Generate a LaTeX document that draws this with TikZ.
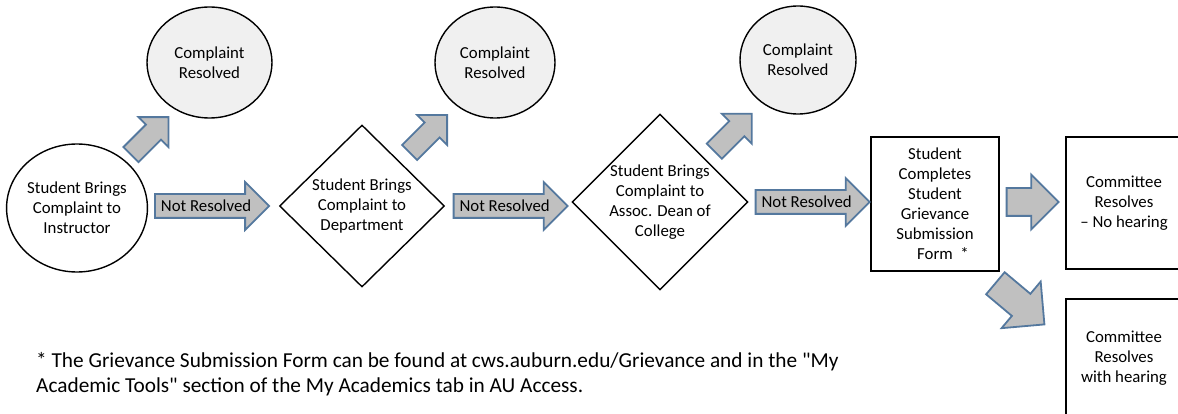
\documentclass[tikz,border=0pt]{standalone}
\usepackage{fontspec}
\setmainfont{Carlito}[Ligatures=TeXOff]
\usetikzlibrary{shapes.geometric,shapes.arrows,calc}
\definecolor{arrline}{RGB}{84,120,158}
\definecolor{arrfill}{RGB}{192,192,192}
\definecolor{resfill}{RGB}{240,240,240}
\tikzset{
  txt/.style={font=\fontsize{16.8}{20}\selectfont,align=center},
  start/.style={txt,ellipse,draw,line width=1.4pt,inner sep=0pt},
  resolved/.style={txt,ellipse,draw,line width=1.4pt,fill=resfill,inner sep=0pt},
  decide/.style={txt,diamond,draw,line width=1.4pt,inner sep=0pt},
  stepbox/.style={txt,rectangle,draw,line width=1.4pt,inner sep=0pt},
  blockarr/.style={single arrow,draw=arrline,fill=arrfill,line width=1.8pt,
    single arrow tip angle=90,single arrow head indent=0pt,inner xsep=0pt,
    text height=0pt,text depth=0pt,anchor=tail},
  notres/.style={blockarr,txt,text height=10.5pt,inner ysep=5.75pt,
    single arrow head extend=12pt,minimum width=46pt,minimum height=114pt},
}

\begin{document}
\begin{tikzpicture}[x=1pt,y=-1pt]
  \useasboundingbox (0,0) rectangle (1178,414);
  % steps
  \node[start,minimum width=140pt,minimum height=128pt] (inst) at (77,208) {Student Brings\\Complaint to\\Instructor};
  \node[decide,minimum width=165pt,minimum height=162pt] (dept) at (362,206) {Student Brings\\Complaint to\\Department};
  \node[decide,minimum width=174pt,minimum height=174pt] (dean) at (660,202) {Student Brings\\Complaint to\\Assoc. Dean of\\College};
  \node[stepbox,minimum width=128pt,minimum height=134pt] (form) at (935,204) {Student\\Completes\\Student\\Grievance\\Submission\\Form\rlap{\ \ *}};
  \node[stepbox,minimum width=116pt,minimum height=132pt] (nohear) at (1124,203) {Committee\\Resolves\\– No hearing};
  \node[stepbox,minimum width=116pt,minimum height=119pt] (hear) at (1124,358.5) {Committee\\Resolves\\with hearing};
  % resolved
  \node[resolved,minimum width=125pt,minimum height=111pt] (res1) at (209.5,62.5) {Complaint\\Resolved};
  \node[resolved,minimum width=120pt,minimum height=111pt] (res2) at (495,62.5) {Complaint\\Resolved};
  \node[resolved,minimum width=116pt,minimum height=108pt] (res3) at (798,60) {Complaint\\Resolved};
  % block arrows
  \node[notres] (nr1) at ($(inst.east)+(6,-2)$) {Not Resolved};
  \node[notres] (nr2) at ($(dept.east)+(7.5,0)$) {Not Resolved};
  \node[notres] (nr3) at ($(dean.east)+(6,0)$) {Not Resolved};
  \node[blockarr,inner ysep=13pt,single arrow head extend=13.5pt,minimum width=53pt,minimum height=52pt]
    (go) at ($(form.east)+(6,-2)$) {};
  \node[blockarr,rotate=45,inner ysep=9.75pt,single arrow head extend=10.5pt,minimum width=40.5pt,minimum height=53pt]
    (up1) at ($(inst.north east)+(3,-7)$) {};
  \node[blockarr,rotate=45,inner ysep=9.75pt,single arrow head extend=10.5pt,minimum width=40.5pt,minimum height=53pt]
    (up2) at ($(dept.north east)+(5.4,-12)$) {};
  \node[blockarr,rotate=45,inner ysep=9.75pt,single arrow head extend=10.5pt,minimum width=40.5pt,minimum height=53pt]
    (up3) at ($(dean.north east)+(9.3,-5.8)$) {};
  \node[blockarr,rotate=-40,inner ysep=13.5pt,single arrow head extend=16pt,minimum width=59pt,minimum height=64pt]
    (down) at ($(form.south east)+(-5,11)$) {};
  % footnote
  \node[anchor=west,align=left,inner sep=0pt,font=\fontsize{21.3}{25}\selectfont] (note) at (36,374.5)
    {* The Grievance Submission Form can be found at cws.auburn.edu/Grievance and in the "My\\
     Academic Tools" section of the My Academics tab in AU Access.};
\end{tikzpicture}
\end{document}
